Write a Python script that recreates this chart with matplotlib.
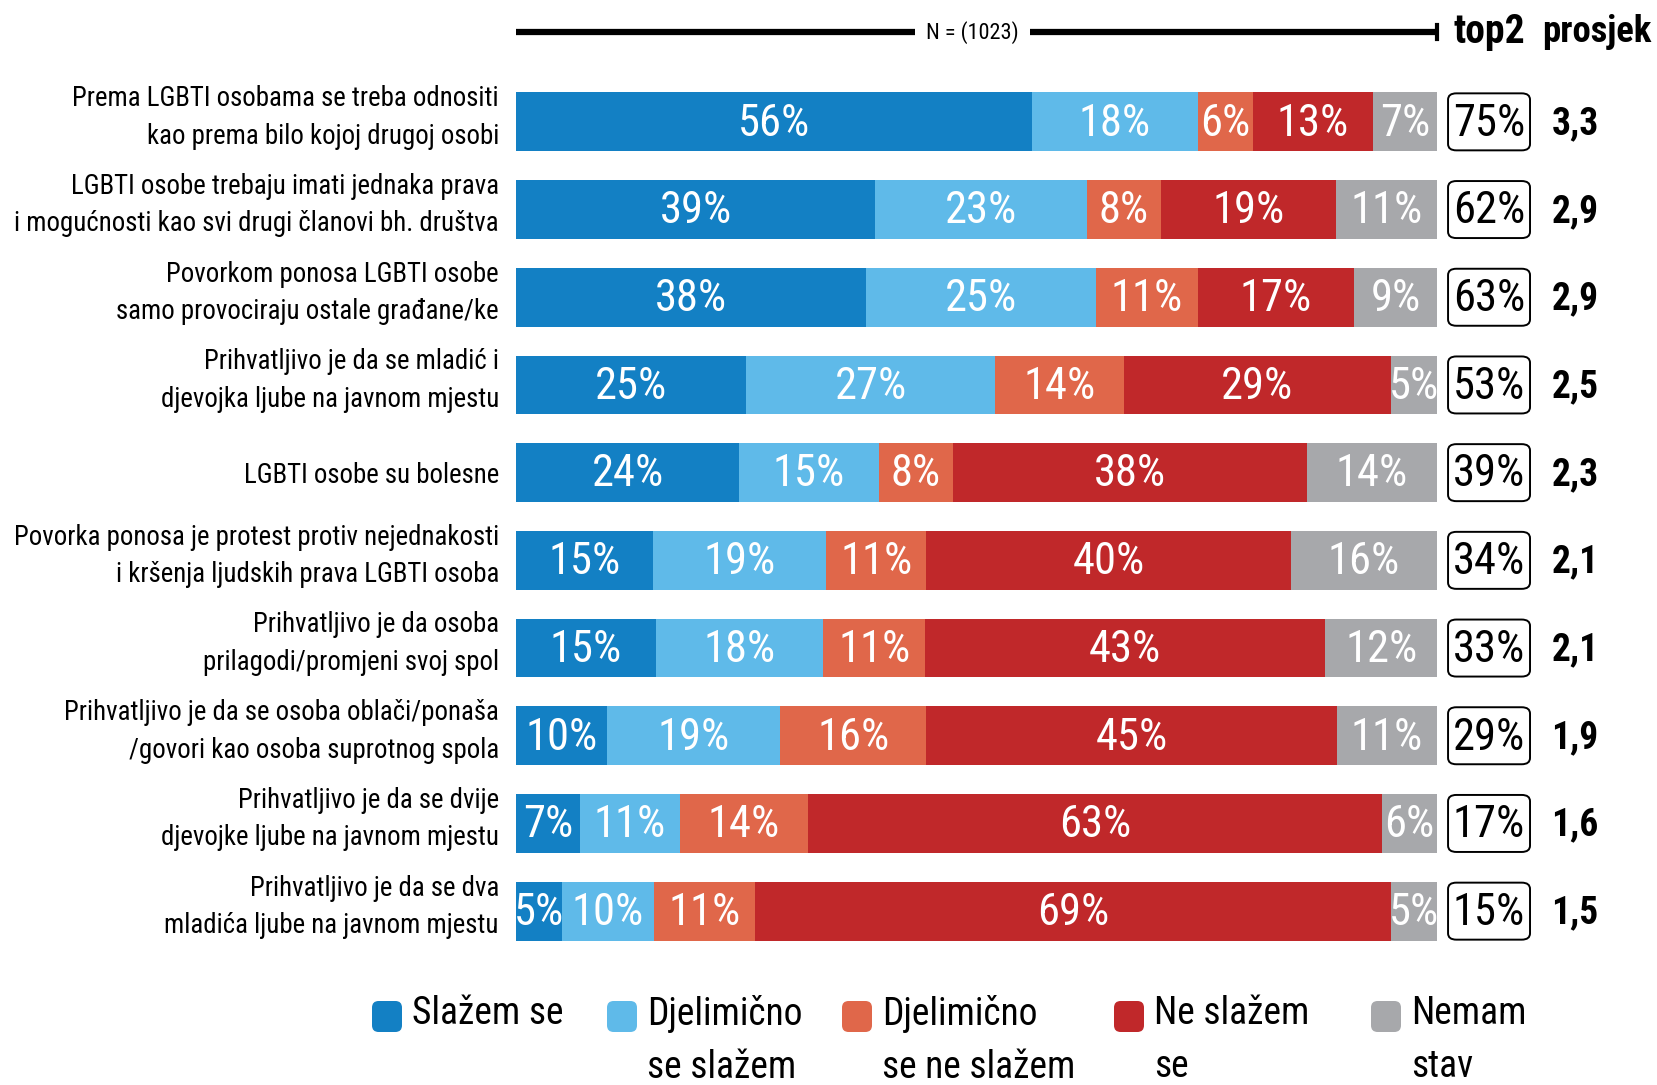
import numpy as np
import matplotlib.pyplot as plt
from matplotlib.patches import FancyBboxPatch

plt.rcParams['font.family'] = ['Roboto Condensed', 'Roboto', 'DejaVu Sans']

statements = [
    "Prema LGBTI osobama se treba odnositi\nkao prema bilo kojoj drugoj osobi",
    "LGBTI osobe trebaju imati jednaka prava\ni mogućnosti kao svi drugi članovi bh. društva",
    "Povorkom ponosa LGBTI osobe\nsamo provociraju ostale građane/ke",
    "Prihvatljivo je da se mladić i\ndjevojka ljube na javnom mjestu",
    "LGBTI osobe su bolesne",
    "Povorka ponosa je protest protiv nejednakosti\ni kršenja ljudskih prava LGBTI osoba",
    "Prihvatljivo je da osoba\nprilagodi/promjeni svoj spol",
    "Prihvatljivo je da se osoba oblači/ponaša\n/govori kao osoba suprotnog spola",
    "Prihvatljivo je da se dvije\ndjevojke ljube na javnom mjestu",
    "Prihvatljivo je da se dva\nmladića ljube na javnom mjestu",
]

slazem = [56, 39, 38, 25, 24, 15, 15, 10, 7, 5]
djel_slazem = [18, 23, 25, 27, 15, 19, 18, 19, 11, 10]
djel_ne = [6, 8, 11, 14, 8, 11, 11, 16, 14, 11]
ne_slazem = [13, 19, 17, 29, 38, 40, 43, 45, 63, 69]
nemam = [7, 11, 9, 5, 14, 16, 12, 11, 6, 5]

top2 = [75, 62, 63, 53, 39, 34, 33, 29, 17, 15]
prosjek = ["3,3", "2,9", "2,9", "2,5", "2,3", "2,1", "2,1", "1,9", "1,6", "1,5"]

categories = ["Slažem se", "Djelimično\nse slažem", "Djelimično\nse ne slažem", "Ne slažem\nse", "Nemam\nstav"]
colors = ["#1380c4", "#5fbae9", "#e0674a", "#c0282a", "#a7a8ab"]

series = np.array([slazem, djel_slazem, djel_ne, ne_slazem, nemam], dtype=float)
totals = series.sum(axis=0)
widths = series / totals * 100

W, H = 1657, 1085
fig = plt.figure(figsize=(W / 100, H / 100), dpi=100)
ax = fig.add_axes([516 / W, 1 - 955 / H, 921 / W, (955 - 78) / H])

y = np.arange(len(statements))
left = np.zeros(len(statements))
for i in range(5):
    ax.barh(y, widths[i], left=left, height=0.67, color=colors[i], edgecolor='none')
    for j in range(len(y)):
        ax.text(left[j] + widths[i][j] / 2, y[j] + 0.02, f"{int(series[i][j])}%",
                ha='center', va='center', color='white', fontsize=32)
    left += widths[i]

ax.set_xlim(0, 100)
ax.set_ylim(len(statements) - 0.5, -0.5)
ax.set_xticks([])
ax.set_yticks([])
for s in ax.spines.values():
    s.set_visible(False)

# row labels
for j, lab in enumerate(statements):
    dy = -0.05 if "\n" in lab else 0.03
    ax.text(-1.85, y[j] + dy, lab, ha='right', va='center', fontsize=19.4, linespacing=1.5)

# top2 boxes and averages
for j in range(len(y)):
    box = FancyBboxPatch((101.2, y[j] - 0.325), 8.9, 0.65, transform=ax.transData,
                         boxstyle="round,pad=0,rounding_size=0.9", fc='white', ec='black',
                         lw=1.4, clip_on=False, mutation_aspect=0.08)
    ax.add_patch(box)
    ax.text(105.65, y[j] + 0.02, f"{top2[j]}%", ha='center', va='center', fontsize=32)
    ax.text(115.0, y[j] + 0.02, prosjek[j], ha='center', va='center', fontsize=27, fontweight='bold')

# header line
ax.plot([0, 43.3], [-1.02, -1.02], color='black', lw=4.5, clip_on=False, solid_capstyle='butt')
ax.plot([55.8, 100], [-1.02, -1.02], color='black', lw=4.5, clip_on=False, solid_capstyle='butt')
ax.plot([100, 100], [-1.1, -0.94], color='black', lw=3, clip_on=False)
ax.text(49.6, -1.02, "N = (1023)", ha='center', va='center', fontsize=16)
ax.text(105.65, -1.02, "top2", ha='center', va='center', fontsize=28.5, fontweight='bold')
ax.text(117.4, -1.02, "prosjek", ha='center', va='center', fontsize=26.5, fontweight='bold')

# legend
leg_x = [372, 607, 842, 1114, 1371]
for k, name in enumerate(categories):
    sq = FancyBboxPatch((leg_x[k] / W, 1 - 1032 / H), 30 / W, 31 / H, transform=fig.transFigure,
                        boxstyle="round,pad=0,rounding_size=0.004", fc=colors[k], ec='none',
                        mutation_aspect=W / H)
    fig.patches.append(sq)
    fig.text((leg_x[k] + 40) / W, 1 - 995 / H, name, ha='left', va='top', fontsize=27,
             linespacing=1.55, transform=fig.transFigure)

fig.savefig("out.png", dpi=100)
